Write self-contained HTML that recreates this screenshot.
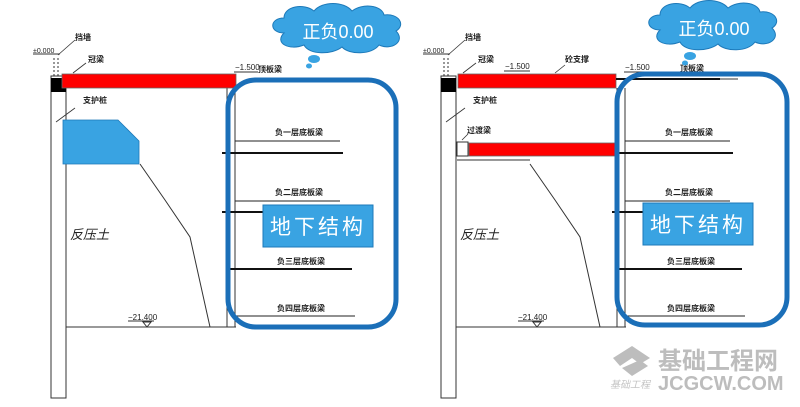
<!DOCTYPE html>
<html><head><meta charset="utf-8"><style>
html,body{margin:0;padding:0;background:#fff;}
svg{display:block}
text{font-family:"Liberation Sans","Noto Sans CJK SC",sans-serif;}
</style></head><body>
<svg width="800" height="407" viewBox="0 0 800 407" xmlns="http://www.w3.org/2000/svg">
<defs>
<g id="panel">
  <!-- wall -->
  <rect x="51" y="76" width="15" height="322" fill="#fff" stroke="#333" stroke-width="1"/>
  <rect x="51" y="78" width="15" height="14" fill="#000"/>
  <line x1="54" y1="58" x2="54" y2="78" stroke="#333" stroke-dasharray="2,2"/>
  <line x1="58" y1="58" x2="58" y2="78" stroke="#333" stroke-dasharray="2,2"/>
  <!-- bottom -->
  <line x1="66" y1="327" x2="236" y2="327" stroke="#333" stroke-width="1"/>
  <line x1="227" y1="88" x2="227" y2="327" stroke="#333"/>
  <line x1="235" y1="88" x2="235" y2="327" stroke="#333"/>
  <polygon points="143,322 151,322 147,327" fill="none" stroke="#333"/>
  <line x1="128" y1="321" x2="154" y2="321" stroke="#333"/>
  <text x="128" y="320" font-size="8" fill="#222">−21.400</text>
  <text x="70" y="239" font-size="13" fill="#222" font-family="Liberation Serif,Noto Serif CJK SC,serif" font-style="italic">反压土</text>
  <polyline points="140,164 165,200 190,237 210,327" fill="none" stroke="#333"/>
  <!-- annotations -->
  <text x="33" y="53" font-size="7" fill="#222">±0.000</text>
  <line x1="33" y1="54" x2="60" y2="54" stroke="#333"/>
  <line x1="58" y1="55" x2="75" y2="40" stroke="#333" stroke-width="0.8"/>
  <text x="75" y="40" font-size="8" fill="#222" font-weight="bold">挡墙</text>
  <line x1="73" y1="73" x2="86" y2="63" stroke="#333" stroke-width="0.8"/>
  <text x="88" y="62" font-size="8" fill="#222" font-weight="bold">冠梁</text>
  <line x1="56" y1="122" x2="75" y2="108" stroke="#333" stroke-width="0.8"/>
  <text x="83" y="103" font-size="8" fill="#222" font-weight="bold">支护桩</text>
  <text x="235" y="70" font-size="8" fill="#222">−1.500</text>
  <line x1="234" y1="72" x2="258" y2="72" stroke="#333"/>
  <!-- floor lines -->
  <line x1="235" y1="141" x2="340" y2="141" stroke="#222" stroke-width="1"/>
  <line x1="222" y1="153" x2="343" y2="153" stroke="#111" stroke-width="2"/>
  <line x1="235" y1="201" x2="340" y2="201" stroke="#222" stroke-width="1"/>
  <line x1="222" y1="212" x2="265" y2="212" stroke="#111" stroke-width="2"/>
  <line x1="226" y1="269" x2="352" y2="269" stroke="#111" stroke-width="2"/>
  <line x1="235" y1="316" x2="355" y2="316" stroke="#222" stroke-width="1"/>
</g>
<g id="cloud">
  <path d="M20,30 C5,30 5,15 20,15 C20,3 40,0 50,8 C58,-2 80,-2 88,8 C98,0 118,2 120,12 C135,10 142,22 132,28 C142,38 128,48 115,42 C108,52 85,52 78,44 C68,52 45,52 40,42 C25,48 10,40 20,30 Z" fill="#39a3e2" stroke="#1d79b9" stroke-width="1"/>
  <ellipse cx="50" cy="56" rx="6" ry="4" fill="#39a3e2"/>
  <ellipse cx="45" cy="63" rx="3" ry="2.5" fill="#39a3e2"/>
</g>
</defs>

<!-- LEFT -->
<use href="#panel"/>
<rect x="62" y="74" width="174" height="14" fill="#f00" stroke="#666" stroke-width="0.8"/>
<polygon points="63,120 118,120 139,141 139,164 63,164" fill="#39a3e2" stroke="#1d79b9" stroke-width="0.8"/>
<text x="258" y="72" font-size="8" fill="#222" font-weight="bold">顶板梁</text>
<text x="275" y="135" font-size="8" fill="#222" font-weight="bold">负一层底板梁</text>
<text x="275" y="195" font-size="8" fill="#222" font-weight="bold">负二层底板梁</text>
<text x="277" y="264" font-size="8" fill="#222" font-weight="bold">负三层底板梁</text>
<text x="277" y="311" font-size="8" fill="#222" font-weight="bold">负四层底板梁</text>
<rect x="228" y="80" width="168" height="247" rx="28" fill="none" stroke="#1b6fb8" stroke-width="5"/>
<rect x="263" y="205" width="110" height="42" fill="#39a3e2" stroke="#1d79b9"/>
<text x="318" y="234" font-size="21" fill="#fff" text-anchor="middle" letter-spacing="3">地下结构</text>
<g transform="translate(264,3)"><use href="#cloud"/></g>
<text x="338" y="38" font-size="18" fill="#fff" text-anchor="middle">正负0.00</text>

<!-- RIGHT -->
<g transform="translate(390,0)"><use href="#panel"/></g>
<rect x="458" y="74" width="158" height="14" fill="#f00" stroke="#666" stroke-width="0.8"/>
<line x1="616" y1="79" x2="720" y2="79" stroke="#111" stroke-width="2"/>
<line x1="720" y1="79" x2="738" y2="79" stroke="#999" stroke-width="2"/>
<rect x="457" y="142" width="11" height="14" fill="#fff" stroke="#333"/>
<rect x="469" y="143" width="147" height="13" fill="#f00" stroke="#666" stroke-width="0.8"/>
<line x1="457" y1="160" x2="530" y2="160" stroke="#333"/>
<text x="505" y="69" font-size="8" fill="#222">−1.500</text>
<line x1="504" y1="71" x2="530" y2="71" stroke="#333"/>
<line x1="555" y1="73" x2="565" y2="65" stroke="#333" stroke-width="0.8"/>
<text x="565" y="62" font-size="8" fill="#222" font-weight="bold">砼支撑</text>
<line x1="462" y1="140" x2="468" y2="134" stroke="#333" stroke-width="0.8"/>
<text x="467" y="133" font-size="8" fill="#222" font-weight="bold">过渡梁</text>
<text x="680" y="71" font-size="8" fill="#222" font-weight="bold">顶板梁</text>
<text x="665" y="135" font-size="8" fill="#222" font-weight="bold">负一层底板梁</text>
<text x="665" y="195" font-size="8" fill="#222" font-weight="bold">负二层底板梁</text>
<text x="667" y="264" font-size="8" fill="#222" font-weight="bold">负三层底板梁</text>
<text x="667" y="311" font-size="8" fill="#222" font-weight="bold">负四层底板梁</text>
<rect x="617" y="74" width="170" height="251" rx="28" fill="none" stroke="#1b6fb8" stroke-width="5"/>
<rect x="643" y="203" width="110" height="42" fill="#39a3e2" stroke="#1d79b9"/>
<text x="698" y="232" font-size="21" fill="#fff" text-anchor="middle" letter-spacing="3">地下结构</text>
<g transform="translate(640,0)"><use href="#cloud"/></g>
<text x="714" y="35" font-size="18" fill="#fff" text-anchor="middle">正负0.00</text>

<!-- watermark -->
<g fill="#bdbdbd">
  <polygon points="613,358 632,346 650,358 640,364 632,358 620,366" />
  <polygon points="622,368 640,360 648,366 632,376"/>
</g>
<text x="658" y="369" font-size="24" fill="#bdbdbd" font-weight="bold">基础工程网</text>
<text x="658" y="390" font-size="20" fill="#bdbdbd" font-weight="bold">JCGCW.COM</text>
<text x="610" y="388" font-size="10" fill="#c4c4c4" font-style="italic">基础工程</text>
</svg>
</body></html>
